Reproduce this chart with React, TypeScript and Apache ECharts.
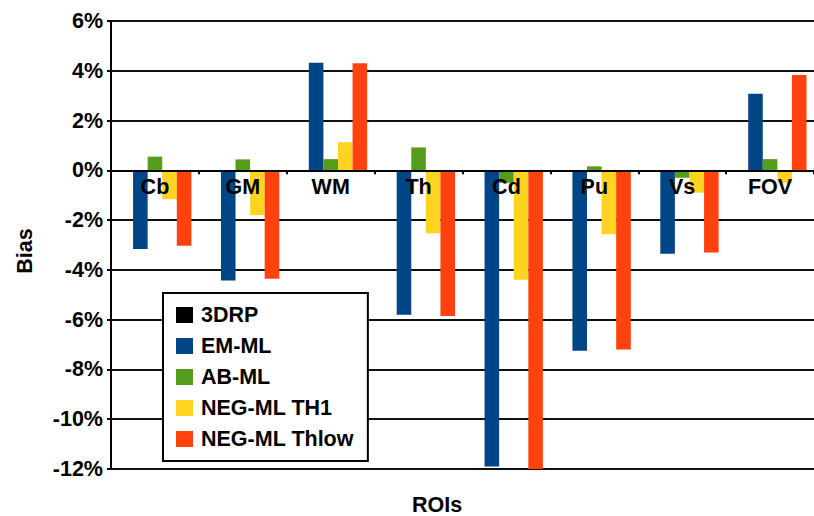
import React, { useEffect, useRef } from "react";
import * as echarts from "echarts";

const categories = ["Cb", "GM", "WM", "Th", "Cd", "Pu", "Vs", "FOV"];
const seriesNames = ["3DRP", "EM-ML", "AB-ML", "NEG-ML TH1", "NEG-ML Thlow"];
const drp3 = [0, 0, 0, 0, 0, 0, 0, 0];
const emMl = [-3.16, -4.43, 4.32, -5.8, -11.9, -7.25, -3.35, 3.08];
const abMl = [0.55, 0.44, 0.45, 0.92, -0.5, 0.16, -0.3, 0.45];
const negTh1 = [-1.16, -1.8, 1.13, -2.53, -4.4, -2.57, -0.9, -0.5];
const negThlow = [-3.03, -4.36, 4.3, -5.85, -12, -7.2, -3.3, 3.83];
const colors = ["#000000", "#004586", "#579d1c", "#ffd320", "#ff420e"];
const yMin = -12;
const yMax = 6;
const yStep = 2;

const FONT = "'Liberation Sans', Arial, sans-serif";
const GRID_TOP = 21;
const GRID_H = 448;

export default function App() {
  const ref = useRef<HTMLDivElement>(null);
  useEffect(() => {
    if (!ref.current) return;
    const chart = echarts.init(ref.current, undefined, { renderer: "svg" });
    const values = [drp3, emMl, abMl, negTh1, negThlow];
    const zeroOffset = -((0 - yMin) / (yMax - yMin)) * GRID_H;
    chart.setOption({
      animation: false,
      backgroundColor: "#ffffff",
      color: colors,
      textStyle: { fontFamily: FONT },
      grid: { left: 111, top: GRID_TOP, width: 710, height: GRID_H },
      legend: {
        orient: "vertical",
        left: 163,
        top: 293,
        backgroundColor: "#ffffff",
        borderColor: "#000000",
        borderWidth: 2,
        padding: [11, 14, 11, 13],
        itemWidth: 17,
        itemHeight: 16,
        itemGap: 9,
        icon: "rect",
        data: seriesNames,
        textStyle: {
          fontFamily: FONT,
          fontWeight: "bold",
          fontSize: 21.5,
          color: "#000000",
          padding: [0, 0, 0, 3],
        },
        z: 20,
      },
      xAxis: {
        type: "category",
        data: categories,
        z: 10,
        offset: zeroOffset,
        axisLine: { onZero: false, lineStyle: { color: "#000000", width: 2 } },
        axisTick: { show: true, length: 4, lineStyle: { color: "#000000", width: 2 } },
        axisLabel: {
          fontFamily: FONT,
          fontWeight: "bold",
          fontSize: 21.5,
          color: "#000000",
          margin: 6,
        },
        splitLine: { show: false },
      },
      yAxis: {
        type: "value",
        min: yMin,
        max: yMax,
        interval: yStep,
        axisLine: { show: true, lineStyle: { color: "#000000", width: 2 } },
        axisTick: { show: true, length: 4, lineStyle: { color: "#000000", width: 2 } },
        axisLabel: {
          formatter: "{value}%",
          fontFamily: FONT,
          fontWeight: "bold",
          fontSize: 21.5,
          color: "#000000",
          margin: 8,
        },
        splitLine: { show: true, lineStyle: { color: "#111111", width: 2 } },
      },
      graphic: [
        {
          type: "text",
          x: 25,
          y: 251,
          rotation: Math.PI / 2,
          style: {
            text: "Bias",
            fontFamily: FONT,
            fontWeight: "bold",
            fontSize: 21.5,
            fill: "#000000",
            align: "center",
            verticalAlign: "middle",
          },
        },
        {
          type: "text",
          x: 437,
          y: 505,
          style: {
            text: "ROIs",
            fontFamily: FONT,
            fontWeight: "bold",
            fontSize: 21.5,
            fill: "#000000",
            align: "center",
            verticalAlign: "middle",
          },
        },
      ],
      series: seriesNames.map((name, i) => ({
        name,
        type: "bar",
        data: values[i],
        barGap: "0%",
        barCategoryGap: "17%",
        itemStyle: { color: colors[i] },
      })),
    });
    return () => chart.dispose();
  }, []);
  return (
    <div
      ref={ref}
      style={{ position: "fixed", left: 0, top: 0, width: 814, height: 516 }}
    />
  );
}
